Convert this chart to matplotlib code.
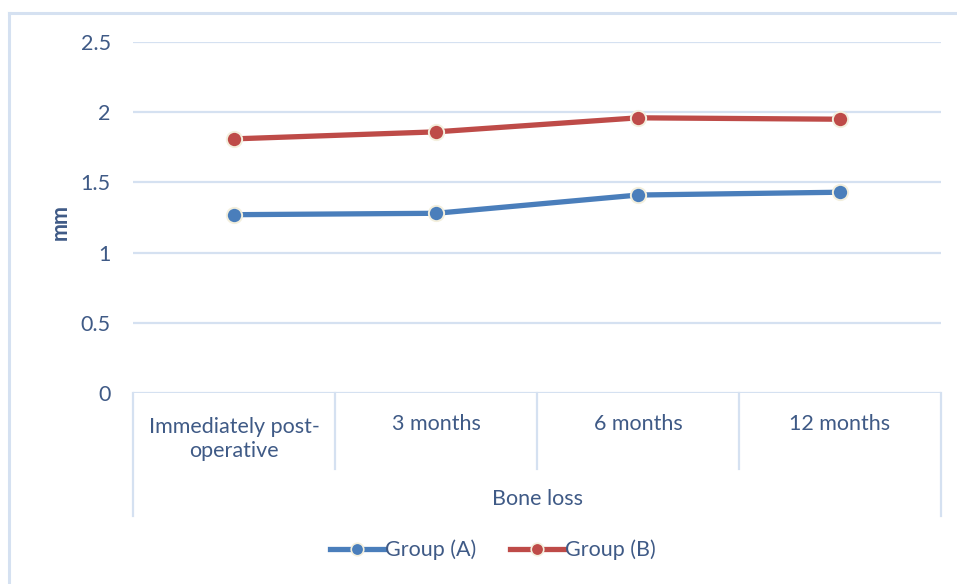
import matplotlib
matplotlib.use("Agg")
import matplotlib.pyplot as plt
from matplotlib.lines import Line2D
import matplotlib.transforms as mtransforms

plt.rcParams['font.family'] = ['Lato', 'DejaVu Sans']

categories = ["Immediately post-\noperative", "3 months", "6 months", "12 months"]
group_a = [1.27, 1.28, 1.41, 1.43]
group_b = [1.81, 1.86, 1.96, 1.95]
series_names = ["Group (A)", "Group (B)"]
y_ticks = [0, 0.5, 1, 1.5, 2, 2.5]
y_tick_labels = ["0", "0.5", "1", "1.5", "2", "2.5"]
x_title = "Bone loss"
y_title = "mm"

W, H = 957, 584
fig = plt.figure(figsize=(W / 100, H / 100), dpi=100)

text_color = "#3F5A86"
grid_color = "#D5E1F1"
blue = "#4A7EBB"
red = "#BE4B48"
edge = "#F3EFDD"
fs = 15.5

# chart frame (only top and left edges fall inside the canvas)
fig.add_artist(Line2D([9 / W, 9 / W], [0, 1 - 13 / H], color=grid_color, lw=2.2))
fig.add_artist(Line2D([9 / W, 1.2], [1 - 13 / H, 1 - 13 / H], color=grid_color, lw=2.2))

left, right, top, bottom = 133, 941, 42, 393
ax = fig.add_axes([left / W, 1 - bottom / H, (right - left) / W, (bottom - top) / H])
ax.set_xlim(-0.5, len(categories) - 0.5)
ax.set_ylim(0, 2.5)
for s in ax.spines.values():
    s.set_visible(False)

ax.set_yticks(y_ticks)
ax.set_yticklabels(y_tick_labels, color=text_color, fontsize=fs)
ax.tick_params(axis='y', length=0, pad=16)
ax.set_xticks([])
for v in y_ticks:
    ax.axhline(v, color=grid_color, lw=1.6, zorder=1)

x = list(range(len(categories)))
ax.plot(x, group_a, color=blue, lw=3.8, marker='o', ms=11, mfc=blue, mec=edge, mew=1.4,
        zorder=3, solid_capstyle='round', label=series_names[0])
ax.plot(x, group_b, color=red, lw=3.8, marker='o', ms=11, mfc=red, mec=edge, mew=1.4,
        zorder=3, solid_capstyle='round', label=series_names[1])

# category axis boxes
trans = mtransforms.blended_transform_factory(ax.transData, ax.transAxes)
ax_h = bottom - top
inner_low = -(469 - bottom) / ax_h
outer_low = -(516 - bottom) / ax_h
for i in range(len(categories) + 1):
    xb = i - 0.5
    low = outer_low if i in (0, len(categories)) else inner_low
    ax.plot([xb, xb], [0, low], transform=trans, color=grid_color, lw=1.6, clip_on=False)

for i, c in enumerate(categories):
    ax.text(i, -(424 - bottom) / ax_h if "\n" not in c else -(439 - bottom) / ax_h, c,
            transform=trans, ha='center', va='center', color=text_color, fontsize=fs,
            linespacing=1.2)

ax.text(1.5, -(499 - bottom) / ax_h, x_title, transform=trans, ha='center', va='center',
        color=text_color, fontsize=fs)

fig.text(60 / W, 1 - 222 / H, y_title, rotation=90, ha='center', va='center',
         color=text_color, fontsize=fs, fontweight='bold')

handles = [
    Line2D([], [], color=blue, lw=3.8, marker='o', ms=9, mfc=blue, mec=edge, mew=1.2),
    Line2D([], [], color=red, lw=3.8, marker='o', ms=9, mfc=red, mec=edge, mew=1.2),
]
fig.legend(handles, series_names, loc='center', bbox_to_anchor=(493 / W, 1 - 550 / H),
           ncol=2, frameon=False, handlelength=2.5, handletextpad=0.05, columnspacing=1.6,
           fontsize=fs, labelcolor=text_color)

fig.savefig("out.png", dpi=100, facecolor="white")
